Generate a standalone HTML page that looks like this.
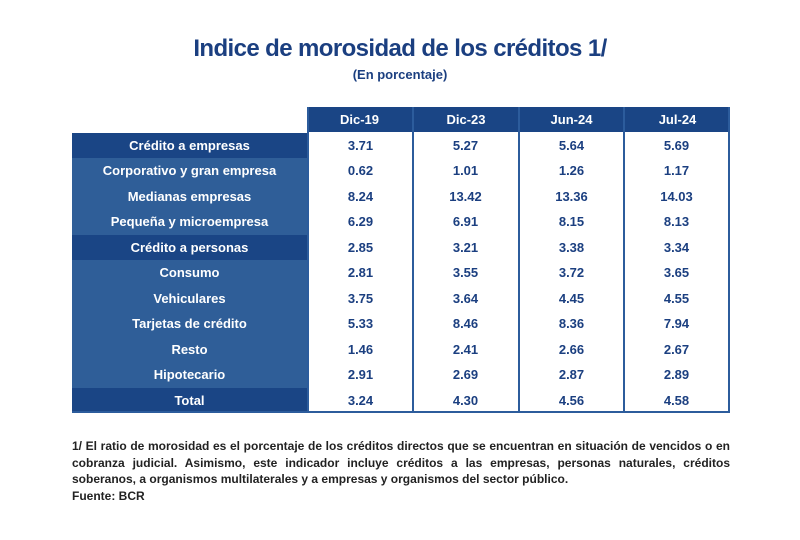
<!DOCTYPE html>
<html><head><meta charset="utf-8"><style>
body{margin:0;width:800px;height:540px;background:#fff;font-family:"Liberation Sans",sans-serif;position:relative;overflow:hidden}
.t1{position:absolute;top:35px;left:0;width:800px;text-align:center;font-size:24px;letter-spacing:-0.6px;font-weight:bold;color:#1b3f80}
.t2{position:absolute;top:67px;left:0;width:800px;text-align:center;font-size:13px;font-weight:bold;color:#1b3f80}
.hd{position:absolute;top:107px;height:25px;background:#1a4585;color:#fff;font-size:13px;font-weight:bold;text-align:center;line-height:25px}
.lb{position:absolute;left:72px;width:235px;color:#fff;font-size:13px;font-weight:bold;text-align:center}
.v{position:absolute;color:#1b3f80;font-size:13px;font-weight:bold;text-align:center;width:105px}
.vl{position:absolute;top:107px;width:2px;height:306px;background:#2c5c9c}
.note{position:absolute;left:72px;top:438px;width:658px;font-size:12px;font-weight:bold;color:#222;line-height:16.5px;text-align:justify}
</style></head><body>
<div class="t1">Indice de morosidad de los créditos 1/</div>
<div class="t2">(En porcentaje)</div>
<div class="hd" style="left:307px;width:105px">Dic-19</div>
<div class="hd" style="left:414px;width:104px">Dic-23</div>
<div class="hd" style="left:520px;width:103px">Jun-24</div>
<div class="hd" style="left:625px;width:105px">Jul-24</div>
<div id="rows"></div>
<div class="vl" style="left:307px"></div>
<div class="vl" style="left:412px"></div>
<div class="vl" style="left:518px"></div>
<div class="vl" style="left:623px"></div>
<div class="vl" style="left:728px"></div>
<div style="position:absolute;left:72px;top:411px;width:658px;height:2px;background:#2c5c9c"></div>
<div class="note">1/ El ratio de morosidad es el porcentaje de los créditos directos que se encuentran en situación de vencidos o en cobranza judicial. Asimismo, este indicador incluye créditos a las empresas, personas naturales, créditos soberanos, a organismos multilaterales y a empresas y organismos del sector público.<br>Fuente: BCR</div>
<script>
var d=[["Crédito a empresas",1,"3.71","5.27","5.64","5.69"],["Corporativo y gran empresa",0,"0.62","1.01","1.26","1.17"],["Medianas empresas",0,"8.24","13.42","13.36","14.03"],["Pequeña y microempresa",0,"6.29","6.91","8.15","8.13"],["Crédito a personas",1,"2.85","3.21","3.38","3.34"],["Consumo",0,"2.81","3.55","3.72","3.65"],["Vehiculares",0,"3.75","3.64","4.45","4.55"],["Tarjetas de crédito",0,"5.33","8.46","8.36","7.94"],["Resto",0,"1.46","2.41","2.66","2.67"],["Hipotecario",0,"2.91","2.69","2.87","2.89"],["Total",1,"3.24","4.30","4.56","4.58"]];
var xs=[308,413,519,624],h="";
d.forEach(function(r,i){var t=133+i*25.45;
h+='<div class="lb" style="top:'+t+'px;height:25.5px;line-height:25.5px;background:'+(r[1]?'#1a4585':'#2f5e98')+'">'+r[0]+'</div>';
for(var j=0;j<4;j++)h+='<div class="v" style="left:'+xs[j]+'px;top:'+t+'px;line-height:25.5px">'+r[2+j]+'</div>';});
document.getElementById('rows').innerHTML=h;
</script>
</body></html>
